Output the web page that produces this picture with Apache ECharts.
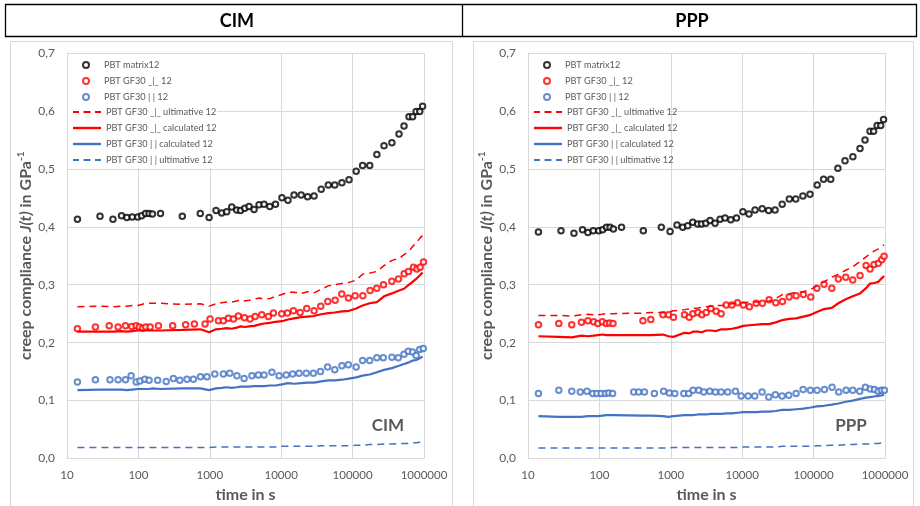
<!DOCTYPE html>
<html><head><meta charset="utf-8">
<script src="https://cdn.jsdelivr.net/npm/echarts@6.0.0/dist/echarts.min.js"></script>
<style>html,body{margin:0;padding:0;background:#fff}#c{width:920px;height:506px}</style>
</head><body><div id="c"></div>
<script>
// ---------- data (time in s, compliance in GPa^-1) ----------
const seriesNames = ['PBT matrix12', 'PBT GF30 _|_ 12', 'PBT GF30 | | 12',
  'PBT GF30 _|_ ultimative 12', 'PBT GF30 _|_ calculated 12',
  'PBT GF30 | | calculated 12', 'PBT GF30 | | ultimative 12'];
const panelTitles = ['CIM', 'PPP'];
const xTickLabels = [10, 100, 1000, 10000, 100000, 1000000];

// matrix measurement times (both panels) and CIM line grid
const tPts = [14, 29, 44, 58, 69, 82, 98, 111, 126, 141, 157, 204, 412, 736, 977, 1222, 1469, 1726, 2028, 2382, 2692, 3090, 3548, 4169, 4898, 5754, 6918, 8318, 10233, 12445, 15136, 19055, 23442, 28840, 36308, 45709, 56234, 70795, 89125, 112202, 138038, 173780, 218776, 275423, 354813, 446684, 524807, 616595, 691831, 776247, 870964, 954993];
const cimMatrix = [0.413, 0.418, 0.413, 0.419, 0.416, 0.417, 0.417, 0.419, 0.423, 0.423, 0.422, 0.423, 0.418, 0.423, 0.416, 0.428, 0.424, 0.426, 0.434, 0.429, 0.428, 0.432, 0.435, 0.430, 0.438, 0.439, 0.435, 0.439, 0.450, 0.446, 0.455, 0.455, 0.452, 0.453, 0.465, 0.472, 0.472, 0.476, 0.481, 0.496, 0.506, 0.506, 0.525, 0.540, 0.545, 0.560, 0.574, 0.590, 0.590, 0.599, 0.599, 0.608];
const pppMatrix = [0.391, 0.393, 0.389, 0.395, 0.390, 0.393, 0.393, 0.395, 0.399, 0.399, 0.396, 0.399, 0.393, 0.399, 0.392, 0.403, 0.399, 0.402, 0.408, 0.405, 0.405, 0.406, 0.411, 0.406, 0.413, 0.415, 0.412, 0.415, 0.426, 0.422, 0.429, 0.431, 0.428, 0.429, 0.439, 0.448, 0.448, 0.453, 0.456, 0.472, 0.482, 0.482, 0.501, 0.514, 0.521, 0.535, 0.550, 0.565, 0.565, 0.575, 0.575, 0.585];

// CIM GF30 perpendicular measurements
const tPerpCIM = [14, 25, 39, 52, 66, 81, 93, 103, 115, 127, 146, 191, 302, 459, 608, 858, 1009, 1320, 1550, 1820, 2140, 2514, 3054, 3664, 4305, 5340, 6620, 7780, 10180, 12220, 14830, 18400, 22800, 28900, 35800, 44900, 56900, 70500, 87400, 108400, 139000, 175800, 218300, 270600, 354200, 439200, 527500, 606700, 713000, 794000, 883000, 984000];
const cimPerp = [0.224, 0.227, 0.229, 0.227, 0.229, 0.228, 0.229, 0.227, 0.225, 0.227, 0.227, 0.229, 0.229, 0.231, 0.232, 0.232, 0.241, 0.238, 0.238, 0.242, 0.241, 0.246, 0.243, 0.241, 0.245, 0.248, 0.245, 0.251, 0.250, 0.251, 0.255, 0.252, 0.259, 0.255, 0.263, 0.271, 0.273, 0.284, 0.277, 0.281, 0.281, 0.290, 0.294, 0.300, 0.306, 0.310, 0.319, 0.323, 0.330, 0.327, 0.330, 0.339];
// CIM GF30 parallel measurements
const tParCIM = [14, 25, 40, 52, 66, 79, 93, 105, 123, 141, 186, 245, 309, 380, 479, 589, 741, 912, 1175, 1549, 1905, 2399, 3020, 3890, 4786, 5754, 7413, 9333, 11749, 14454, 17783, 22387, 28184, 35481, 44668, 56234, 70795, 87096, 112202, 138038, 173780, 218776, 269153, 354813, 436516, 524807, 602560, 691831, 776247, 870964, 977237];
const cimPar = [0.132, 0.136, 0.136, 0.136, 0.136, 0.143, 0.132, 0.134, 0.137, 0.135, 0.135, 0.133, 0.138, 0.135, 0.137, 0.137, 0.141, 0.141, 0.146, 0.146, 0.147, 0.143, 0.138, 0.143, 0.144, 0.144, 0.149, 0.143, 0.144, 0.146, 0.147, 0.147, 0.147, 0.150, 0.158, 0.153, 0.160, 0.162, 0.158, 0.169, 0.169, 0.174, 0.174, 0.175, 0.174, 0.180, 0.185, 0.184, 0.178, 0.188, 0.190];
// CIM model curves (on tPts)
const cimPerpUlt = [0.262, 0.263, 0.262, 0.263, 0.263, 0.264, 0.264, 0.266, 0.268, 0.268, 0.268, 0.268, 0.266, 0.267, 0.263, 0.267, 0.269, 0.270, 0.270, 0.272, 0.274, 0.272, 0.273, 0.275, 0.277, 0.275, 0.276, 0.280, 0.283, 0.287, 0.287, 0.285, 0.288, 0.286, 0.292, 0.298, 0.300, 0.302, 0.304, 0.308, 0.318, 0.320, 0.323, 0.333, 0.342, 0.345, 0.352, 0.358, 0.366, 0.372, 0.380, 0.385];
const cimPerpCalc = [0.219, 0.219, 0.219, 0.220, 0.219, 0.220, 0.221, 0.221, 0.221, 0.221, 0.221, 0.221, 0.222, 0.223, 0.218, 0.223, 0.224, 0.225, 0.224, 0.226, 0.228, 0.227, 0.228, 0.229, 0.231, 0.233, 0.234, 0.236, 0.237, 0.240, 0.242, 0.244, 0.245, 0.246, 0.249, 0.251, 0.252, 0.254, 0.255, 0.259, 0.264, 0.268, 0.270, 0.280, 0.285, 0.290, 0.293, 0.300, 0.305, 0.310, 0.316, 0.321];
const cimParCalc = [0.118, 0.119, 0.119, 0.119, 0.118, 0.119, 0.120, 0.120, 0.120, 0.120, 0.121, 0.120, 0.121, 0.121, 0.118, 0.121, 0.122, 0.123, 0.122, 0.123, 0.124, 0.124, 0.124, 0.125, 0.125, 0.125, 0.126, 0.126, 0.128, 0.130, 0.129, 0.130, 0.131, 0.131, 0.133, 0.135, 0.135, 0.136, 0.138, 0.140, 0.143, 0.145, 0.149, 0.153, 0.156, 0.160, 0.163, 0.166, 0.169, 0.170, 0.173, 0.176];
const cimParUlt = [0.019, 0.019, 0.019, 0.019, 0.019, 0.019, 0.019, 0.019, 0.019, 0.019, 0.019, 0.019, 0.019, 0.019, 0.019, 0.020, 0.020, 0.020, 0.020, 0.020, 0.020, 0.020, 0.020, 0.020, 0.020, 0.020, 0.020, 0.020, 0.021, 0.021, 0.021, 0.021, 0.021, 0.021, 0.022, 0.022, 0.022, 0.022, 0.022, 0.023, 0.023, 0.024, 0.024, 0.025, 0.025, 0.026, 0.026, 0.026, 0.027, 0.027, 0.028, 0.028];

// PPP GF30 perpendicular measurements (also PPP line grid)
const tPerpPPP = [14, 27, 41, 56, 69, 83, 95, 110, 125, 139, 155, 407, 525, 776, 929, 1091, 1556, 1811, 2040, 2400, 2725, 3130, 3640, 4315, 5070, 5960, 7160, 8580, 10400, 12600, 15660, 19190, 23800, 29500, 36600, 45400, 56900, 71900, 91200, 111000, 140000, 180000, 222000, 282000, 353000, 447000, 543000, 617000, 703000, 807000, 899000, 970000];
const pppPerp = [0.231, 0.233, 0.231, 0.235, 0.238, 0.236, 0.233, 0.236, 0.233, 0.234, 0.233, 0.238, 0.240, 0.248, 0.248, 0.244, 0.248, 0.244, 0.250, 0.252, 0.248, 0.252, 0.259, 0.254, 0.250, 0.265, 0.265, 0.269, 0.265, 0.262, 0.268, 0.268, 0.274, 0.269, 0.271, 0.279, 0.281, 0.283, 0.279, 0.294, 0.301, 0.294, 0.310, 0.313, 0.308, 0.316, 0.333, 0.327, 0.335, 0.337, 0.343, 0.349];
// PPP GF30 parallel measurements
const tParPPP = [14, 27, 41, 54, 67, 81, 92, 106, 121, 135, 153, 302, 355, 427, 589, 794, 955, 1138, 1521, 1786, 2056, 2466, 2897, 3516, 4217, 5070, 6281, 8035, 9660, 12100, 15000, 19000, 23550, 29170, 36220, 44870, 56890, 71290, 90160, 111900, 141900, 181600, 224900, 285100, 353200, 442600, 531100, 623700, 709600, 799800, 891300, 981700];
const pppPar = [0.112, 0.118, 0.116, 0.115, 0.116, 0.112, 0.112, 0.112, 0.112, 0.113, 0.112, 0.115, 0.115, 0.115, 0.112, 0.116, 0.113, 0.112, 0.112, 0.112, 0.118, 0.118, 0.115, 0.116, 0.115, 0.115, 0.115, 0.116, 0.108, 0.108, 0.108, 0.115, 0.106, 0.110, 0.108, 0.109, 0.112, 0.119, 0.118, 0.118, 0.119, 0.123, 0.115, 0.118, 0.118, 0.116, 0.123, 0.120, 0.119, 0.116, 0.118, 0.118];
// PPP model curves (on tPerpPPP)
const pppPerpUlt = [0.247, 0.247, 0.246, 0.248, 0.249, 0.248, 0.248, 0.249, 0.250, 0.250, 0.250, 0.251, 0.252, 0.252, 0.253, 0.255, 0.257, 0.258, 0.259, 0.260, 0.261, 0.262, 0.263, 0.264, 0.264, 0.265, 0.267, 0.268, 0.269, 0.270, 0.270, 0.271, 0.272, 0.276, 0.283, 0.284, 0.287, 0.288, 0.292, 0.298, 0.305, 0.313, 0.318, 0.325, 0.331, 0.340, 0.348, 0.353, 0.358, 0.362, 0.366, 0.369];
const pppPerpCalc = [0.211, 0.210, 0.209, 0.212, 0.211, 0.212, 0.213, 0.214, 0.213, 0.213, 0.213, 0.213, 0.213, 0.214, 0.211, 0.210, 0.217, 0.216, 0.219, 0.219, 0.218, 0.221, 0.221, 0.220, 0.223, 0.223, 0.224, 0.226, 0.229, 0.230, 0.231, 0.232, 0.232, 0.235, 0.239, 0.241, 0.242, 0.245, 0.248, 0.253, 0.258, 0.260, 0.268, 0.275, 0.280, 0.285, 0.294, 0.302, 0.303, 0.305, 0.311, 0.315];
const pppParCalc = [0.073, 0.072, 0.072, 0.072, 0.073, 0.073, 0.073, 0.074, 0.075, 0.075, 0.075, 0.074, 0.074, 0.073, 0.072, 0.073, 0.075, 0.075, 0.075, 0.076, 0.076, 0.076, 0.077, 0.077, 0.077, 0.078, 0.078, 0.079, 0.080, 0.080, 0.080, 0.081, 0.081, 0.082, 0.084, 0.084, 0.085, 0.086, 0.088, 0.090, 0.091, 0.093, 0.095, 0.098, 0.100, 0.103, 0.105, 0.106, 0.107, 0.108, 0.109, 0.110];
const pppParUlt = [0.018, 0.018, 0.018, 0.018, 0.018, 0.018, 0.018, 0.018, 0.018, 0.018, 0.018, 0.018, 0.018, 0.018, 0.018, 0.019, 0.019, 0.019, 0.019, 0.019, 0.019, 0.019, 0.019, 0.019, 0.019, 0.019, 0.019, 0.019, 0.020, 0.020, 0.020, 0.020, 0.020, 0.020, 0.021, 0.021, 0.021, 0.021, 0.021, 0.022, 0.022, 0.023, 0.023, 0.024, 0.024, 0.025, 0.025, 0.025, 0.026, 0.026, 0.027, 0.027];

// ---------- chart ----------
const FONT = 'Lato, "Open Sans", sans-serif';
const GRAY = '#595959', GRID = '#d9d9d9';
const RED = '#ff0000', BLUE = '#4472c4', BLACK = '#000000';
const zip = (t, v) => t.map((x, i) => [x, v[i]]);

const panels = [
  { left: 67, pts: [[tPts, cimMatrix], [tPerpCIM, cimPerp], [tParCIM, cimPar]],
    lines: [[tPts, cimPerpUlt], [tPts, cimPerpCalc], [tPts, cimParCalc], [tPts, cimParUlt]] },
  { left: 528, pts: [[tPts, pppMatrix], [tPerpPPP, pppPerp], [tParPPP, pppPar]],
    lines: [[tPerpPPP, pppPerpUlt], [tPerpPPP, pppPerpCalc], [tPerpPPP, pppParCalc], [tPerpPPP, pppParUlt]] }
];
const ptColors = [BLACK, RED, BLUE];
const lineStyles = [
  { color: RED, width: 1.5, type: [7, 5] },
  { color: RED, width: 2.2, type: 'solid' },
  { color: BLUE, width: 2.2, type: 'solid' },
  { color: BLUE, width: 1.5, type: [7, 5] }
];
// legend icon shapes (solid bar / three dashes)
const ICON_SOLID = 'path://M0,0L28,0L28,2.4L0,2.4Z';
const ICON_DASH = 'path://M0,0L6,0L6,2L0,2Z M10.5,0L17.5,0L17.5,2L10.5,2Z M22,0L28,0L28,2L22,2Z';

const grids = [], xAxes = [], yAxes = [], series = [], legends = [];
panels.forEach((p, k) => {
  grids.push({ left: p.left, top: 53, width: 357, height: 405.5, containLabel: false, outerBoundsMode: 'none' });
  xAxes.push({
    type: 'log', logBase: 10, min: 10, max: 1000000, gridIndex: k,
    axisLine: { show: true, lineStyle: { color: GRID, width: 1 } },
    axisTick: { show: false }, minorTick: { show: false },
    splitLine: { show: true, lineStyle: { color: GRID, width: 1 } },
    axisLabel: { color: GRAY, fontSize: 11.5, fontFamily: FONT, margin: 11,
      formatter: v => { const r = Math.round(v); return xTickLabels.includes(r) ? String(r) : ''; } },
    name: 'time in s', nameLocation: 'middle', nameGap: 27,
    nameTextStyle: { color: GRAY, fontSize: 16, fontWeight: 'bold', fontFamily: FONT }
  });
  yAxes.push({
    type: 'value', min: 0, max: 0.7, interval: 0.1, gridIndex: k,
    axisLine: { show: true, lineStyle: { color: GRID, width: 1 } },
    axisTick: { show: false },
    splitLine: { show: true, lineStyle: { color: GRID, width: 1 } },
    axisLabel: { color: GRAY, fontSize: 12, fontFamily: FONT, margin: 12,
      formatter: v => v.toFixed(1).replace('.', ',') },
    name: '{a|creep compliance }{i|J(t)}{a| in GPa}{s|-1}',
    nameLocation: 'middle', nameRotate: 90, nameGap: 31,
    nameTextStyle: { color: GRAY, fontFamily: FONT,
      rich: {
        a: { fontSize: 16, fontWeight: 'bold', color: GRAY, fontFamily: FONT, lineHeight: 20 },
        i: { fontSize: 16, fontWeight: 'bold', fontStyle: 'italic', color: GRAY, fontFamily: FONT, lineHeight: 20 },
        s: { fontSize: 10, fontWeight: 'bold', color: GRAY, fontFamily: FONT, lineHeight: 11, verticalAlign: 'top' }
      } }
  });
  p.pts.forEach((d, j) => series.push({
    name: seriesNames[j], type: 'scatter', xAxisIndex: k, yAxisIndex: k,
    data: zip(d[0], d[1]), symbol: 'emptyCircle', symbolSize: 5.5,
    itemStyle: { color: ptColors[j], borderColor: ptColors[j], borderWidth: 1.4 },
    emphasis: { disabled: true }, silent: true, z: 2
  }));
  p.lines.forEach((d, j) => series.push({
    name: seriesNames[3 + j], type: 'line', xAxisIndex: k, yAxisIndex: k,
    data: zip(d[0], d[1]), symbol: 'none', showSymbol: false,
    lineStyle: lineStyles[j], itemStyle: { color: lineStyles[j].color },
    emphasis: { disabled: true }, silent: true, z: 3
  }));
  const legText = { color: GRAY, fontSize: 9.2, fontFamily: FONT, lineHeight: 12 };
  legends.push({
    orient: 'vertical', left: p.left + 15, top: 59, padding: 0, itemGap: 4,
    itemWidth: 26, itemHeight: 6, selectedMode: false, textStyle: legText,
    data: seriesNames.slice(0, 3), z: 6
  });
  legends.push({
    orient: 'vertical', left: p.left + 6, top: 106, padding: 0, itemGap: 4,
    itemWidth: 28, itemHeight: 6, selectedMode: false, textStyle: legText,
    data: seriesNames.slice(3).map((n, j) => ({
      name: n,
      icon: lineStyles[j].type === 'solid' ? ICON_SOLID : ICON_DASH,
      itemStyle: { color: lineStyles[j].color, borderWidth: 0 }
    })), z: 6
  });
});

const graphic = [
  { type: 'rect', shape: { x: 5.5, y: 4.5, width: 911, height: 32 }, style: { fill: 'none', stroke: '#000', lineWidth: 1.3 }, z: 10, silent: true },
  { type: 'line', shape: { x1: 462.5, y1: 4.5, x2: 462.5, y2: 36.5 }, style: { stroke: '#000', lineWidth: 1.3 }, z: 10, silent: true },
  { type: 'text', x: 237, y: 21, style: { text: panelTitles[0], fill: '#000', font: 'bold 18px ' + FONT, textAlign: 'center', textVerticalAlign: 'middle' }, z: 10 },
  { type: 'text', x: 692, y: 21, style: { text: panelTitles[1], fill: '#000', font: 'bold 18px ' + FONT, textAlign: 'center', textVerticalAlign: 'middle' }, z: 10 },
  { type: 'rect', shape: { x: 10.5, y: 41.5, width: 442, height: 480 }, style: { fill: 'none', stroke: GRID, lineWidth: 1 }, z: 0, silent: true },
  { type: 'rect', shape: { x: 473.5, y: 41.5, width: 440, height: 480 }, style: { fill: 'none', stroke: GRID, lineWidth: 1 }, z: 0, silent: true },
  { type: 'rect', shape: { x: 68, y: 54, width: 149, height: 114 }, style: { fill: '#fff' }, z: 1, silent: true },
  { type: 'rect', shape: { x: 529, y: 54, width: 141, height: 114 }, style: { fill: '#fff' }, z: 1, silent: true },
  { type: 'text', x: 388, y: 426, style: { text: panelTitles[0], fill: GRAY, font: 'bold 17px ' + FONT, textAlign: 'center', textVerticalAlign: 'middle' }, z: 5 },
  { type: 'text', x: 851, y: 426, style: { text: panelTitles[1], fill: GRAY, font: 'bold 17px ' + FONT, textAlign: 'center', textVerticalAlign: 'middle' }, z: 5 }
];

const chart = echarts.init(document.getElementById('c'), null, { renderer: 'canvas' });
chart.setOption({
  backgroundColor: '#fff', animation: false,
  textStyle: { fontFamily: FONT },
  grid: grids, xAxis: xAxes, yAxis: yAxes, series: series, legend: legends,
  graphic: graphic, tooltip: { show: false }
});
</script></body></html>
